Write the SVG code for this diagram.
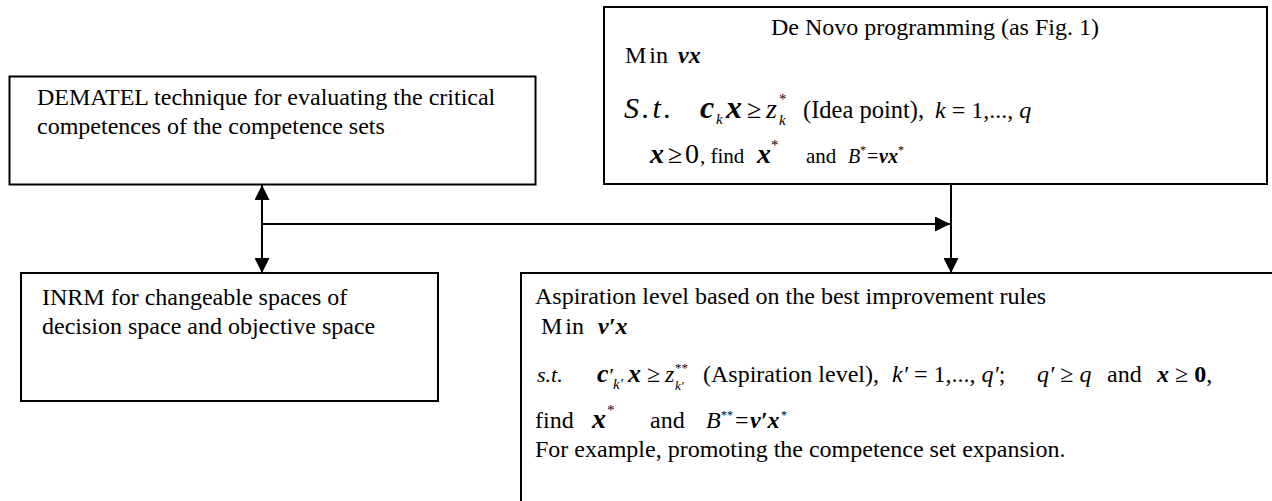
<svg xmlns="http://www.w3.org/2000/svg" width="1272" height="501" viewBox="0 0 1272 501">
<style>
  .box{fill:#fff;stroke:#000;stroke-width:2}
  text{font-family:"Liberation Serif","Times New Roman",serif;font-size:24px;fill:#000}
  .bi{font-weight:bold;font-style:italic}
  .i{font-style:italic}
  .b{font-weight:bold}
  .conn{stroke:#000;stroke-width:2;fill:none}
</style>
<defs>
  <marker id="ah" markerUnits="userSpaceOnUse" markerWidth="15" markerHeight="15" refX="15" refY="7.5" orient="auto-start-reverse" viewBox="0 0 15 15">
    <path d="M0,0 L15,7.5 L0,15 z" fill="#000"/>
  </marker>
</defs>

<g id="dematel">
  <rect class="box" x="9.5" y="76.5" width="526" height="108"/>
  <text x="37" y="105">DEMATEL technique for evaluating the critical</text>
  <text x="37" y="134">competences of the competence sets</text>
</g>

<g id="inrm">
  <rect class="box" x="21" y="273" width="417" height="128"/>
  <text x="42" y="305">INRM for changeable spaces of</text>
  <text x="42" y="334">decision space and objective space</text>
</g>

<g id="denovo">
  <rect class="box" x="604" y="7" width="663" height="177"/>
  <text x="935" y="35" text-anchor="middle">De Novo programming (as Fig. 1)</text>
  <text x="625" y="63">M<tspan dx="3">in</tspan><tspan x="678" class="bi">vx</tspan></text>
  <text y="118"><tspan x="624" class="i" font-size="30" letter-spacing="3">S.t.</tspan><tspan x="700" class="bi" font-size="32">c</tspan><tspan x="716" y="124" class="i" font-size="15">k</tspan><tspan x="726" y="118" class="bi" font-size="32">x</tspan><tspan x="747" font-size="26">≥</tspan><tspan x="766" class="i" font-size="28">z</tspan><tspan x="779" y="104" font-size="15">*</tspan><tspan x="779" y="125" class="i" font-size="15">k</tspan><tspan x="803" y="118" font-size="24.5">(Idea point),</tspan><tspan x="935" class="i">k</tspan><tspan> = 1,..., </tspan><tspan class="i">q</tspan></text>
  <text y="163"><tspan x="650" class="bi" font-size="28">x</tspan><tspan x="668" font-size="26">≥</tspan><tspan x="685" font-size="28">0</tspan><tspan x="700" font-size="21">, find</tspan><tspan x="757" class="bi" font-size="28">x</tspan><tspan x="771" y="150" font-size="15">*</tspan><tspan x="806" y="163" font-size="21">and</tspan><tspan x="848" class="i" font-size="20">B</tspan><tspan x="860" y="154" font-size="12">*</tspan><tspan x="867" y="163" font-size="20">=</tspan><tspan x="879" class="bi" font-size="20">vx</tspan><tspan x="898" y="154" font-size="12">*</tspan></text>
</g>

<g id="aspiration">
  <rect class="box" x="521" y="273" width="800" height="300"/>
  <text x="535" y="304">Aspiration level based on the best improvement rules</text>
  <text x="541" y="334">M<tspan dx="3">in</tspan><tspan x="598" class="bi">v′x</tspan></text>
  <text y="382"><tspan x="537" class="i" font-size="22">s.t.</tspan><tspan x="597" class="bi" font-size="26">c</tspan><tspan x="609" class="bi" font-size="18">′</tspan><tspan x="613" y="389" class="i" font-size="15">k′</tspan><tspan x="628" y="382" class="bi" font-size="26">x</tspan><tspan x="647" font-size="24">≥</tspan><tspan x="665" class="i" font-size="24">z</tspan><tspan x="675" y="372" font-size="13">**</tspan><tspan x="675" y="390" class="i" font-size="13">k′</tspan><tspan x="703" y="382">(Aspiration level),</tspan><tspan x="892" class="i">k′</tspan><tspan> = 1,..., </tspan><tspan class="i">q′</tspan><tspan>;</tspan><tspan x="1037" class="i">q′</tspan><tspan> ≥ </tspan><tspan class="i">q</tspan><tspan x="1107">and</tspan><tspan x="1157" class="bi">x</tspan><tspan> ≥ </tspan><tspan class="b">0</tspan><tspan>,</tspan></text>
  <text y="428"><tspan x="535">find</tspan><tspan x="592" class="bi" font-size="28">x</tspan><tspan x="607" y="415" font-size="15">*</tspan><tspan x="650" y="428">and</tspan><tspan x="706" class="i">B</tspan><tspan x="721" y="419" font-size="12">**</tspan><tspan x="735" y="428">=</tspan><tspan x="750" class="bi">v′x</tspan><tspan x="781" y="419" font-size="12">*</tspan></text>
  <text x="535" y="457">For example, promoting the competence set expansion.</text>
</g>

<g id="connectors">
  <line class="conn" x1="262" y1="185" x2="262" y2="273" marker-start="url(#ah)" marker-end="url(#ah)"/>
  <line class="conn" x1="262" y1="224" x2="950" y2="224" marker-end="url(#ah)"/>
  <line class="conn" x1="951" y1="185" x2="951" y2="273" marker-end="url(#ah)"/>
</g>
</svg>
